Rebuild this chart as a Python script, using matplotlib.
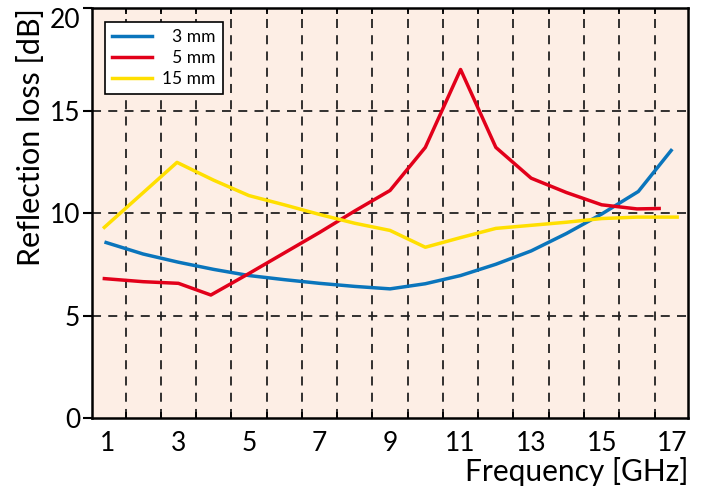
import matplotlib
matplotlib.use('Agg')
import matplotlib.pyplot as plt
import numpy as np

plt.rcParams['font.family'] = ['Lato', 'DejaVu Sans']

# 3 mm
freq_3mm = [0.95, 2, 3, 4, 5, 6, 7, 8, 9, 10, 11, 12, 13, 14, 15, 16.04, 16.97]
loss_3mm = [8.56, 8.0, 7.6, 7.25, 6.95, 6.75, 6.57, 6.42, 6.3, 6.55, 6.95, 7.5, 8.15, 9.0, 9.95, 11.05, 13.05]

# 5 mm
freq_5mm = [0.9, 2, 3, 3.92, 5, 6, 7, 8, 9, 10, 11, 12, 13, 14, 15, 16, 16.63]
loss_5mm = [6.8, 6.65, 6.57, 6.0, 7.05, 8.05, 9.05, 10.1, 11.1, 13.2, 17.0, 13.2, 11.7, 11.0, 10.4, 10.2, 10.22]

# 15 mm
freq_15mm = [0.9, 2.96, 4, 5, 6, 7, 8, 9, 10, 11, 12, 13, 14, 15, 16, 17.14]
loss_15mm = [9.3, 12.47, 11.6, 10.85, 10.4, 9.93, 9.5, 9.15, 8.33, 8.8, 9.25, 9.4, 9.55, 9.73, 9.8, 9.8]

labels = ['\u20073 mm', '\u20075 mm', '15 mm']
colors = ['#0a75bc', '#e2001a', '#ffdf00']

fig = plt.figure(figsize=(7.05, 4.94), dpi=100)
ax = fig.add_axes([0.1305, 0.1538, 0.976 - 0.1305, 0.9838 - 0.1538])
ax.set_facecolor('#fdeee5')

# grid: horizontal at 5/10/15, vertical at half-integers
for y in [5, 10, 15]:
    ax.axhline(y, color='#222222', lw=1.3, ls=(0, (5, 4)), zorder=1)
for x in np.arange(1.5, 17, 1):
    ax.axvline(x, color='#222222', lw=1.3, ls=(0, (5, 4)), zorder=1)

ax.plot(freq_3mm, loss_3mm, color=colors[0], lw=2.5, label=labels[0], zorder=3)
ax.plot(freq_5mm, loss_5mm, color=colors[1], lw=2.5, label=labels[1], zorder=3)
ax.plot(freq_15mm, loss_15mm, color=colors[2], lw=2.5, label=labels[2], zorder=3)

ax.set_xlim(0.55, 17.45)
ax.set_ylim(0, 20)
ax.set_xticks(range(1, 18, 2))
ax.set_xticks(np.arange(1.5, 17, 1), minor=True)
ax.set_yticks([0, 5, 10, 15, 20])

ax.tick_params(axis='x', which='major', length=0, pad=9, labelsize=19)
ax.tick_params(axis='x', which='minor', direction='in', length=4, width=1.3,
               top=True, bottom=True)
ax.tick_params(axis='y', which='major', direction='out', length=6.5, width=1.5,
               pad=2, labelsize=19)

# top label sits just below the corner, as in the original
fig.canvas.draw()
ax.get_yticklabels()[-1].set_verticalalignment('top')

for spine in ax.spines.values():
    spine.set_linewidth(1.8)

ax.set_xlabel('Frequency [GHz]', fontsize=21.5, loc='right', labelpad=1)
ax.set_ylabel('Reflection loss [dB]', fontsize=22, loc='top', labelpad=3)

leg = ax.legend(loc='upper left', bbox_to_anchor=(0.022, 0.966), fontsize=12.5,
                fancybox=False, framealpha=1, edgecolor='black',
                handlelength=2.3, handletextpad=0.6, borderpad=0.4,
                labelspacing=0.3, borderaxespad=0)
leg.get_frame().set_linewidth(1.2)

fig.savefig('out.png', dpi=100, facecolor='white')
